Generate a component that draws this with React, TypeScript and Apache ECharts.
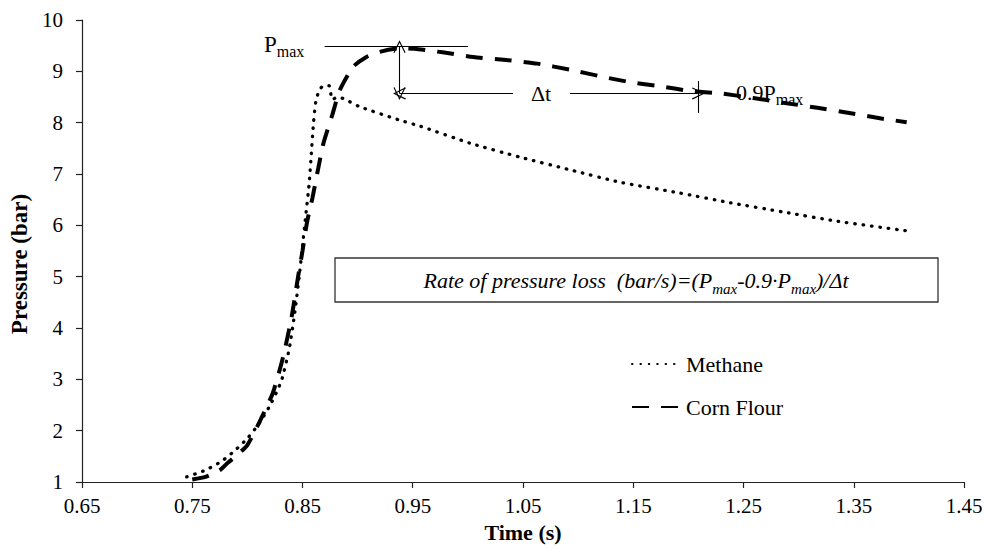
import React, { useEffect, useRef } from 'react';
import * as echarts from 'echarts';

// ---- data ----
const xTickValues = [0.65, 0.75, 0.85, 0.95, 1.05, 1.15, 1.25, 1.35, 1.45];
const yTickMin = 1;
const yTickMax = 10;
const seriesNames = ['Methane', 'Corn Flour'];

const methaneTime = [0.745, 0.762, 0.777, 0.789, 0.8, 0.811, 0.822, 0.831, 0.838, 0.843, 0.847, 0.85, 0.853, 0.856, 0.858, 0.86, 0.862, 0.865, 0.869, 0.874, 0.877, 0.882, 0.889, 0.902, 0.938, 0.957, 1.002, 1.047, 1.093, 1.138, 1.192, 1.238, 1.286, 1.335, 1.399];
const methanePressure = [1.1, 1.23, 1.41, 1.62, 1.85, 2.15, 2.55, 2.98, 3.6, 4.3, 5.0, 5.6, 6.2, 6.8, 7.4, 8.0, 8.4, 8.62, 8.72, 8.72, 8.45, 8.5, 8.45, 8.31, 8.05, 7.93, 7.6, 7.33, 7.08, 6.84, 6.63, 6.44, 6.26, 6.08, 5.89];

const cornTime = [0.75, 0.762, 0.775, 0.782, 0.792, 0.8, 0.811, 0.823, 0.832, 0.84, 0.846, 0.85, 0.854, 0.859, 0.864, 0.869, 0.877, 0.884, 0.896, 0.908, 0.92, 0.938, 0.955, 0.977, 1.005, 1.035, 1.063, 1.093, 1.123, 1.147, 1.174, 1.201, 1.229, 1.259, 1.289, 1.317, 1.346, 1.375, 1.398];
const cornPressure = [1.05, 1.1, 1.23, 1.37, 1.55, 1.72, 2.17, 2.73, 3.4, 4.2, 5.0, 5.5, 6.05, 6.53, 7.08, 7.6, 8.15, 8.64, 9.09, 9.28, 9.38, 9.45, 9.43, 9.37, 9.28, 9.22, 9.15, 9.03, 8.89, 8.79, 8.71, 8.62, 8.57, 8.48, 8.38, 8.29, 8.19, 8.08, 8.01];

// annotation reference values (data space)
const pmaxLevel = 9.48;
const p09Level = 8.57;
const tPmax = 0.938;
const t09 = 1.209;
const pmaxLineFrom = 0.87;
const pmaxLineTo = 1.0;
const dtGapFrom = 1.041;
const dtGapTo = 1.0926;
const tickTop = 8.81;
const tickBottom = 8.19;

const FONT = '"Liberation Serif", "Times New Roman", serif';
const ARROW = 'path://M50,0 L100,88 L93,95 L50,18 L7,95 L0,88 Z';

export default function App() {
  const ref = useRef<HTMLDivElement>(null);

  useEffect(() => {
    if (!ref.current) return;
    const chart = echarts.init(ref.current, undefined, { renderer: 'svg' });

    const methaneData = methaneTime.map((t, i) => [t, methanePressure[i]]);
    const cornData = cornTime.map((t, i) => [t, cornPressure[i]]);

    const arrowEnd = { symbol: ARROW, symbolSize: [12, 13] };
    const none = { symbol: 'none' };

    const option: any = {
      animation: false,
      backgroundColor: '#fff',
      grid: { left: 82, right: 23, top: 20, bottom: 67, outerBoundsMode: 'none' },
      xAxis: {
        type: 'value',
        min: xTickValues[0],
        max: xTickValues[xTickValues.length - 1],
        name: 'Time (s)',
        nameLocation: 'middle',
        nameGap: 39,
        nameTextStyle: { fontFamily: FONT, fontSize: 22, fontWeight: 'bold', color: '#000' },
        axisLine: { lineStyle: { color: '#222', width: 1.2 } },
        axisTick: { show: true, length: 6, inside: false, customValues: xTickValues, lineStyle: { color: '#222', width: 1.2 } },
        axisLabel: {
          customValues: xTickValues,
          margin: 13,
          fontFamily: FONT,
          fontSize: 21,
          color: '#000',
          formatter: (v: number) => v.toFixed(2),
        },
        splitLine: { show: false },
      },
      yAxis: {
        type: 'value',
        min: yTickMin,
        max: yTickMax,
        interval: 1,
        name: 'Pressure (bar)',
        nameLocation: 'middle',
        nameGap: 48,
        nameTextStyle: { fontFamily: FONT, fontSize: 23, fontWeight: 'bold', color: '#000', padding: [0, 26, 0, 0] },
        axisLine: { show: true, lineStyle: { color: '#222', width: 1.2 } },
        axisTick: { show: true, length: 6, inside: false, lineStyle: { color: '#222', width: 1.2 } },
        axisLabel: { margin: 19, fontFamily: FONT, fontSize: 21, color: '#000' },
        splitLine: { show: false },
      },
      legend: {
        orient: 'vertical',
        left: 626,
        top: 348,
        itemWidth: 46,
        itemHeight: 14,
        itemGap: 21,
        data: seriesNames,
        itemStyle: { color: 'transparent', borderColor: 'transparent', borderWidth: 0, opacity: 0 },
        textStyle: { fontFamily: FONT, fontSize: 22, color: '#000', padding: [0, 0, 0, 3] },
      },
      series: [
        {
          name: seriesNames[0],
          type: 'line',
          data: methaneData,
          showSymbol: false,
          symbol: 'none',
          smooth: 0.2,
          lineStyle: { color: '#000', width: 3.3, type: [0.5, 7.9], cap: 'round' },
          itemStyle: { color: '#000' },
          z: 3,
        },
        {
          name: seriesNames[1],
          type: 'line',
          data: cornData,
          showSymbol: false,
          symbol: 'none',
          smooth: 0.2,
          lineStyle: { color: '#000', width: 4, type: [17, 12], cap: 'butt' },
          itemStyle: { color: '#000' },
          z: 2,
          markLine: {
            silent: true,
            animation: false,
            label: { show: false },
            lineStyle: { color: '#000', width: 1.1, type: 'solid' },
            data: [
              [{ coord: [pmaxLineFrom, pmaxLevel], ...none }, { coord: [pmaxLineTo, pmaxLevel], ...none }],
              [{ coord: [tPmax, p09Level], ...arrowEnd }, { coord: [tPmax, pmaxLevel], ...arrowEnd }],
              [{ coord: [tPmax, p09Level], ...arrowEnd }, { coord: [dtGapFrom, p09Level], ...none }],
              [{ coord: [dtGapTo, p09Level], ...none }, { coord: [t09, p09Level], ...arrowEnd }],
              [{ coord: [t09, tickTop], ...none }, { coord: [t09, tickBottom], ...none }],
            ],
          },
        },
      ],
      graphic: [
        {
          type: 'rect',
          shape: { x: 335, y: 258, width: 603, height: 44 },
          style: { fill: '#fff', stroke: '#333', lineWidth: 1.3 },
          z: 10,
        },
        {
          type: 'text',
          x: 636,
          y: 280,
          z: 11,
          style: {
            text: '{a|Rate of pressure loss  (bar/s)=(P}{s|max}{a|-0.9·P}{s|max}{a|)/Δt}',
            align: 'center',
            verticalAlign: 'middle',
            fontFamily: FONT,
            fontStyle: 'italic',
            fill: '#000',
            rich: {
              a: { fontFamily: FONT, fontStyle: 'italic', fontSize: 22, lineHeight: 32, fill: '#000' },
              s: { fontFamily: FONT, fontStyle: 'italic', fontSize: 15, lineHeight: 15, verticalAlign: 'bottom', fill: '#000' },
            },
          },
        },
        {
          type: 'text',
          x: 264,
          y: 44,
          z: 11,
          style: {
            text: '{a|P}{s|max}',
            align: 'left',
            verticalAlign: 'middle',
            fontFamily: FONT,
            fill: '#000',
            rich: {
              a: { fontFamily: FONT, fontSize: 23, lineHeight: 30, fill: '#000' },
              s: { fontFamily: FONT, fontSize: 16, lineHeight: 15, verticalAlign: 'bottom', fill: '#000' },
            },
          },
        },
        {
          type: 'text',
          x: 736,
          y: 92,
          z: 11,
          style: {
            text: '{a|0.9P}{s|max}',
            align: 'left',
            verticalAlign: 'middle',
            fontFamily: FONT,
            fill: '#000',
            rich: {
              a: { fontFamily: FONT, fontSize: 22, lineHeight: 30, fill: '#000' },
              s: { fontFamily: FONT, fontSize: 16, lineHeight: 15, verticalAlign: 'bottom', fill: '#000' },
            },
          },
        },
        {
          type: 'text',
          x: 541,
          y: 93,
          z: 11,
          style: {
            text: 'Δt',
            align: 'center',
            verticalAlign: 'middle',
            fontFamily: FONT,
            fontSize: 22,
            fill: '#000',
          },
        },
      ],
    };

    chart.setOption(option);
    return () => chart.dispose();
  }, []);

  return (
    <div
      ref={ref}
      style={{ position: 'fixed', left: 0, top: 0, width: 987, height: 549 }}
    />
  );
}
